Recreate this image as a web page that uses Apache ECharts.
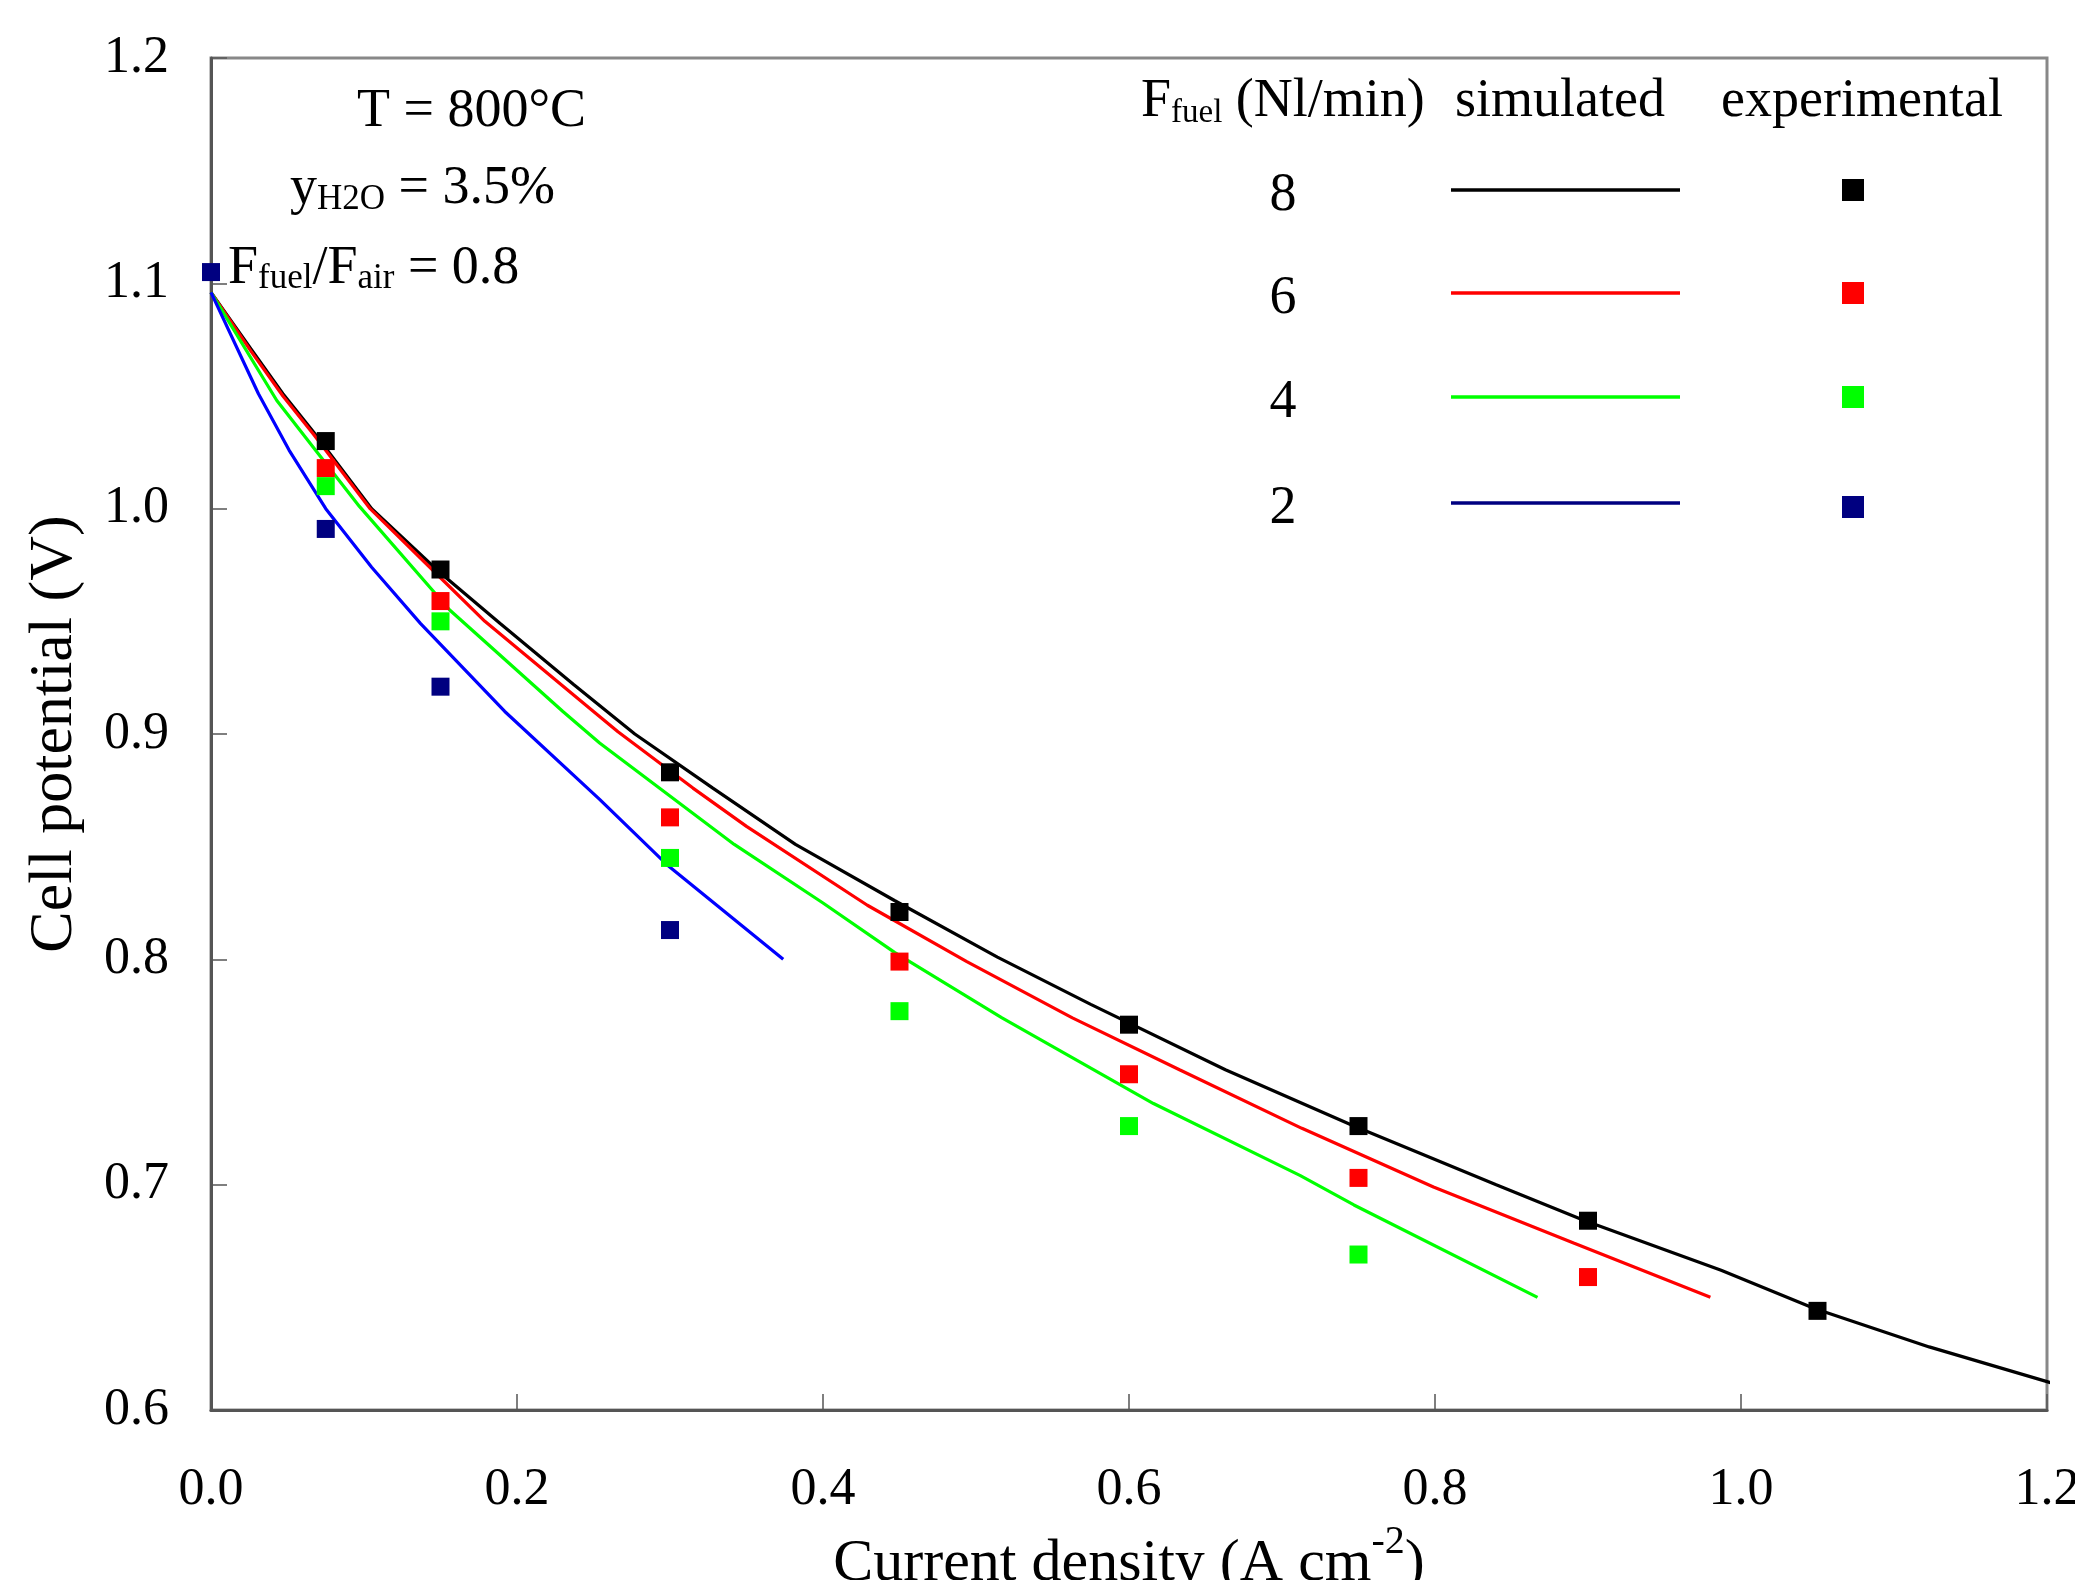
<!DOCTYPE html>
<html><head><meta charset="utf-8">
<script src="https://cdn.jsdelivr.net/npm/echarts@6/dist/echarts.min.js"></script>
<style>html,body{margin:0;padding:0;background:#fff}#c{width:2075px;height:1580px}</style>
</head><body><div id="c"></div>
<script>
// ---- data ----
const xTickValues = [0, 0.2, 0.4, 0.6, 0.8, 1.0, 1.2];
const yTickValues = [0.6, 0.7, 0.8, 0.9, 1.0, 1.1, 1.2];

// simulated curves [current density, cell potential]
const sim8 = [[0,1.096],[0.026,1.071],[0.047,1.051],[0.067,1.034],[0.105,1.000],[0.149,0.972],[0.189,0.949],[0.237,0.922],[0.277,0.900],[0.328,0.876],[0.382,0.851],[0.447,0.826],[0.514,0.801],[0.575,0.780],[0.663,0.751],[0.747,0.726],[0.840,0.700],[0.898,0.684],[0.987,0.662],[1.048,0.645],[1.123,0.628],[1.208,0.611]];
const sim6 = [[0,1.096],[0.026,1.070],[0.047,1.050],[0.067,1.033],[0.104,1.000],[0.140,0.976],[0.179,0.950],[0.250,0.910],[0.266,0.901],[0.315,0.876],[0.350,0.859],[0.429,0.824],[0.494,0.799],[0.563,0.774],[0.633,0.751],[0.713,0.725],[0.799,0.699],[0.891,0.674],[0.980,0.650]];
const sim4 = [[0,1.096],[0.043,1.048],[0.097,1.001],[0.156,0.955],[0.230,0.910],[0.254,0.896],[0.342,0.851],[0.400,0.825],[0.447,0.803],[0.517,0.774],[0.616,0.736],[0.712,0.704],[0.747,0.691],[0.867,0.650]];
const sim2 = [[0,1.096],[0.031,1.051],[0.051,1.026],[0.075,1.000],[0.105,0.974],[0.137,0.949],[0.192,0.910],[0.254,0.871],[0.298,0.842],[0.374,0.800]];

// experimental points
const expX  = [0.075, 0.15, 0.3, 0.45, 0.6, 0.75, 0.9, 1.05];
const exp8  = [1.030, 0.973, 0.883, 0.821, 0.771, 0.726, 0.684, 0.644];
const exp6  = [1.018, 0.959, 0.863, 0.799, 0.749, 0.703, 0.659];
const exp4  = [1.010, 0.950, 0.845, 0.777, 0.726, 0.669];
const exp2X = [0, 0.075, 0.15, 0.3];
const exp2  = [1.105, 0.991, 0.921, 0.813];

const legendFlows = ['8', '6', '4', '2'];

// ---- styling ----
const FONT = "'Liberation Serif','Times New Roman',serif";
const lineColors = ['#000000', '#ff0000', '#00ff00', '#0000ff'];
const legendLineColors = ['#000000', '#ff0000', '#00ff00', '#000080'];
const markColors = ['#000000', '#ff0000', '#00ff00', '#000080'];

const zip = (xs, ys) => ys.map((y, i) => [xs[i], y]);

const chart = echarts.init(document.getElementById('c'), null, {renderer: 'canvas'});

const lineSeries = [sim8, sim6, sim4, sim2].map((d, i) => ({
  type: 'line', data: d, showSymbol: false, symbol: 'none', clip: false,
  lineStyle: {color: lineColors[i], width: 3.2}, z: 2, silent: true
}));
const expData = [zip(expX, exp8), zip(expX, exp6), zip(expX, exp4), zip(exp2X, exp2)];
const scatterSeries = expData.map((d, i) => ({
  type: 'scatter', data: d, symbol: 'rect', symbolSize: 18, clip: false,
  itemStyle: {color: markColors[i], opacity: 1}, z: 5, silent: true
}));

// legend graphics
const legendRowsY = [190, 293, 397, 503];
const TY = 4; // text vertical nudge
const graphics = [];
graphics.push({type: 'text', x: 1141, y: 98 + TY, style: {
  text: '{m|F}{s|fuel}{m| (Nl/min)}', align: 'left', verticalAlign: 'middle', fill: '#000',
  rich: {m: {fontFamily: FONT, fontSize: 54, verticalAlign: 'middle'},
         s: {fontFamily: FONT, fontSize: 33, padding: [22,0,0,0], verticalAlign: 'middle'}}}});
graphics.push({type: 'text', x: 1560, y: 98 + TY, style: {text: 'simulated', font: '54px ' + FONT, fill: '#000', align: 'center', verticalAlign: 'middle'}});
graphics.push({type: 'text', x: 1862, y: 98 + TY, style: {text: 'experimental', font: '54px ' + FONT, fill: '#000', align: 'center', verticalAlign: 'middle'}});
legendFlows.forEach((f, i) => {
  const y = legendRowsY[i];
  graphics.push({type: 'text', x: 1283, y: y + 2 + TY, style: {text: f, font: '54px ' + FONT, fill: '#000', align: 'center', verticalAlign: 'middle'}});
  graphics.push({type: 'line', shape: {x1: 1451, y1: y, x2: 1680, y2: y}, style: {stroke: legendLineColors[i], lineWidth: 3.5}});
  graphics.push({type: 'rect', shape: {x: 1842, y: y - 11 + (i === 3 ? 4 : 0), width: 22, height: 22}, style: {fill: markColors[i]}});
});
// condition annotations
graphics.push({type: 'text', x: 357, y: 108 + TY, style: {text: 'T = 800°C', font: '54px ' + FONT, fill: '#000', align: 'left', verticalAlign: 'middle'}});
graphics.push({type: 'text', x: 290, y: 183 + TY + 2, style: {
  text: '{m|y}{s|H2O}{m| = 3.5%}', align: 'left', verticalAlign: 'middle', fill: '#000',
  rich: {m: {fontFamily: FONT, fontSize: 54, verticalAlign: 'middle'},
         s: {fontFamily: FONT, fontSize: 35, padding: [22,0,0,0], verticalAlign: 'middle'}}}});
graphics.push({type: 'text', x: 228, y: 265 + TY, style: {
  text: '{m|F}{s|fuel}{m|/F}{s|air}{m| = 0.8}', align: 'left', verticalAlign: 'middle', fill: '#000',
  rich: {m: {fontFamily: FONT, fontSize: 54, verticalAlign: 'middle'},
         s: {fontFamily: FONT, fontSize: 35, padding: [20,0,0,0], verticalAlign: 'middle'}}}});

chart.setOption({
  animation: false,
  backgroundColor: '#ffffff',
  grid: {left: 211, right: 28, top: 58, bottom: 170, containLabel: false, outerBoundsMode: 'none',
         show: true, borderColor: '#888888', borderWidth: 3, backgroundColor: 'transparent'},
  xAxis: {
    type: 'value', min: 0, max: 1.2, interval: 0.2,
    name: 'Current density (A cm{sup|-2})', nameLocation: 'middle', nameGap: 112,
    nameTextStyle: {fontFamily: FONT, fontSize: 60, color: '#000',
      rich: {sup: {fontFamily: FONT, fontSize: 40, color: '#000', padding: [0,0,44,0], verticalAlign: 'middle'}}},
    axisLine: {show: true, onZero: false, lineStyle: {color: '#555', width: 3}},
    axisTick: {show: true, inside: true, length: 16, lineStyle: {color: '#555', width: 1.5}},
    axisLabel: {fontFamily: FONT, fontSize: 52, color: '#000', margin: 54,
      formatter: v => xTickValues.some(t => Math.abs(t - v) < 1e-9) ? v.toFixed(1) : ''},
    splitLine: {show: false}
  },
  yAxis: {
    type: 'value', min: 0.6, max: 1.2, interval: 0.1,
    name: 'Cell potential (V)', nameLocation: 'middle', nameGap: 125, nameRotate: 90,
    nameTextStyle: {fontFamily: FONT, fontSize: 62, color: '#000'},
    axisLine: {show: true, onZero: false, lineStyle: {color: '#555', width: 3}},
    axisTick: {show: true, inside: true, length: 16, lineStyle: {color: '#555', width: 1.5}},
    axisLabel: {fontFamily: FONT, fontSize: 52, color: '#000', margin: 42,
      formatter: v => yTickValues.some(t => Math.abs(t - v) < 1e-9) ? v.toFixed(1) : ''},
    splitLine: {show: false}
  },
  series: [...lineSeries, ...scatterSeries],
  graphic: graphics
});
</script></body></html>
